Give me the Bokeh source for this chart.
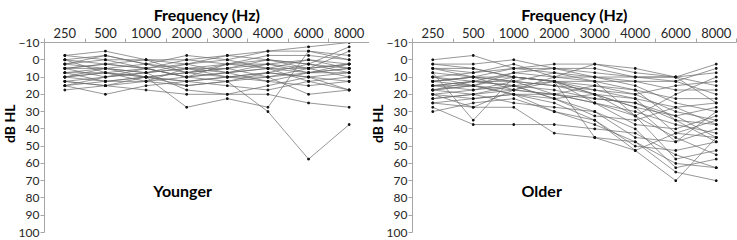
from bokeh.plotting import figure
from bokeh.layouts import row
from bokeh.models import Range1d, FixedTicker, Label, Title
from bokeh.embed import file_html
from bokeh.resources import INLINE

# ---- data -------------------------------------------------------------
freqs = ["250", "500", "1000", "2000", "3000", "4000", "6000", "8000"]
db_ticks = [-10, 0, 10, 20, 30, 40, 50, 60, 70, 80, 90, 100]

# Younger listeners (dB HL at each frequency)
y01 = [-2.5, -5, 0, 0, -2.5, -5, -7.5, -10]
y02 = [0, -2.5, 2.5, -2.5, 0, -5, -5, -2.5]
y03 = [2.5, 0, 0, 2.5, -2.5, 0, 2.5, -7.5]
y04 = [5, 2.5, 5, 0, 2.5, 2.5, 0, 2.5]
y05 = [5, 5, 7.5, 5, 5, 0, 2.5, 5]
y06 = [7.5, 5, 10, 7.5, 5, 2.5, 7.5, 5]
y07 = [10, 7.5, 5, 10, 7.5, 5, 5, 2.5]
y08 = [12.5, 10, 7.5, 5, 10, 7.5, 10, 7.5]
y09 = [15, 12.5, 10, 12.5, 10, 10, 5, 10]
y10 = [17.5, 15, 12.5, 15, 12.5, 10, 7.5, 5]
y11 = [15, 20, 15, 12.5, 15, 17.5, 12.5, 17.5]
y12 = [10, 12.5, 10, 27.5, 22.5, 27.5, -5, 0]
y13 = [7.5, 7.5, 10, 15, 12.5, 30, 57.5, 37.5]
y14 = [12.5, 15, 17.5, 20, 20, 20, 25, 27.5]
y15 = [2.5, 5, 7.5, 17.5, 20, 15, 10, 17.5]
y16 = [0, 2.5, 5, 2.5, 7.5, 12.5, 15, 12.5]
y17 = [-2.5, 0, 5, 10, 2.5, -2.5, -2.5, 0]
y18 = [5, 10, 7.5, 2.5, 0, 5, 12.5, 10]
y19 = [10, 5, 2.5, 7.5, 10, 7.5, 2.5, 7.5]
y20 = [12.5, 15, 10, 7.5, 5, 10, 20, 17.5]
y21 = [7.5, 12.5, 12.5, 10, 7.5, 2.5, 5, 2.5]
y22 = [2.5, -2.5, 2.5, 5, 7.5, 5, 0, 5]
y23 = [0, 7.5, 10, 12.5, 10, 12.5, 7.5, 2.5]
y24 = [15, 10, 5, 10, 12.5, 7.5, 10, 12.5]
y25 = [5, 2.5, 0, 7.5, 2.5, 0, 5, -5]
y26 = [10, 7.5, 12.5, 5, 2.5, 5, 7.5, 7.5]

# Older listeners (dB HL at each frequency)
o01 = [0, -2.5, 5, 2.5, 2.5, 5, 10, 2.5]
o02 = [2.5, 2.5, 0, 5, 7.5, 10, 12.5, 5]
o03 = [5, 7.5, 2.5, 10, 2.5, 7.5, 10, 7.5]
o04 = [7.5, 35, 10, 12.5, 20, 32.5, 45, 55]
o05 = [27.5, 37.5, 37.5, 37.5, 40, 42.5, 55, 62.5]
o06 = [25, 27.5, 27.5, 42.5, 45, 47.5, 65, 70]
o07 = [30, 25, 22.5, 30, 35, 52.5, 70, 45]
o08 = [22.5, 20, 17.5, 20, 25, 32.5, 57.5, 52.5]
o09 = [20, 17.5, 15, 22.5, 30, 40, 62.5, 57.5]
o10 = [17.5, 15, 20, 25, 35, 50, 52.5, 47.5]
o11 = [15, 12.5, 12.5, 15, 20, 27.5, 47.5, 40]
o12 = [12.5, 10, 10, 12.5, 17.5, 22.5, 42.5, 45]
o13 = [10, 12.5, 7.5, 10, 12.5, 17.5, 35, 37.5]
o14 = [15, 15, 17.5, 10, 10, 12.5, 12.5, 20]
o15 = [12.5, 10, 12.5, 7.5, 10, 10, 10, 15]
o16 = [10, 7.5, 5, 5, 5, 10, 10, 25]
o17 = [5, 5, 10, 12.5, 15, 20, 30, 35]
o18 = [17.5, 20, 15, 17.5, 22.5, 25, 32.5, 27.5]
o19 = [20, 22.5, 20, 20, 15, 17.5, 22.5, 22.5]
o20 = [7.5, 10, 12.5, 20, 25, 37.5, 40, 32.5]
o21 = [12.5, 15, 7.5, 5, 10, 15, 25, 30]
o22 = [15, 17.5, 12.5, 15, 17.5, 20, 15, 12.5]
o23 = [17.5, 12.5, 15, 12.5, 12.5, 32.5, 20, 10]
o24 = [10, 15, 20, 22.5, 32.5, 35, 27.5, 37.5]
o25 = [20, 27.5, 17.5, 12.5, 25, 30, 37.5, 42.5]
o26 = [22.5, 20, 25, 27.5, 30, 45, 47.5, 30]
o27 = [5, 10, 17.5, 20, 22.5, 25, 35, 47.5]
o28 = [2.5, 5, 10, 12.5, 20, 22.5, 27.5, 25]
o29 = [12.5, 10, 5, 7.5, 12.5, 12.5, 17.5, 17.5]
o30 = [15, 12.5, 15, 22.5, 20, 27.5, 32.5, 45]
o31 = [25, 22.5, 20, 30, 37.5, 47.5, 60, 62.5]
o32 = [17.5, 15, 10, 12.5, 45, 52.5, 42.5, 35]

younger = [y01, y02, y03, y04, y05, y06, y07, y08, y09, y10, y11, y12, y13,
           y14, y15, y16, y17, y18, y19, y20, y21, y22, y23, y24, y25, y26]
older = [o01, o02, o03, o04, o05, o06, o07, o08, o09, o10, o11, o12, o13,
         o14, o15, o16, o17, o18, o19, o20, o21, o22, o23, o24, o25, o26,
         o27, o28, o29, o30, o31, o32]

FONT = "Lato"
AXIS_GREY = "#a6a6a6"
TEXT = "#262626"


def make_panel(series, group_label, width, left_border, right_border, label_x, label_y):
    n = len(freqs)
    idx = list(range(n))
    p = figure(width=width, height=240, output_backend="svg",
               toolbar_location=None, x_axis_location="above",
               x_range=Range1d(-0.5, n - 0.5), y_range=Range1d(100, -10),
               min_border_left=left_border, min_border_right=right_border,
               min_border_top=42, min_border_bottom=8)
    p.outline_line_color = None
    p.xgrid.visible = False
    p.ygrid.visible = False
    p.background_fill_color = "white"
    p.border_fill_color = "white"

    # top frequency axis
    xa = p.xaxis[0]
    xa.ticker = FixedTicker(ticks=idx, minor_ticks=[i - 0.5 for i in range(n + 1)])
    xa.major_label_overrides = {i: f for i, f in enumerate(freqs)}
    xa.major_tick_out = 0
    xa.major_tick_in = 0
    xa.minor_tick_out = 4
    xa.minor_tick_in = 0
    xa.minor_tick_line_color = AXIS_GREY
    xa.axis_line_color = AXIS_GREY
    xa.major_label_text_font = FONT
    xa.major_label_text_font_size = "13px"
    xa.major_label_text_color = TEXT
    xa.major_label_standoff = 1
    xa.axis_label = "Frequency (Hz)"
    xa.axis_label_text_font = FONT
    xa.axis_label_text_font_style = "bold"
    xa.axis_label_text_font_size = "16px"
    xa.axis_label_text_color = "black"
    xa.axis_label_standoff = 1

    # dB HL axis
    ya = p.yaxis[0]
    ya.ticker = FixedTicker(ticks=db_ticks)
    ya.minor_tick_line_color = None
    ya.major_tick_out = 4
    ya.major_tick_in = 0
    ya.major_tick_line_color = AXIS_GREY
    ya.axis_line_color = AXIS_GREY
    ya.major_label_text_font = FONT
    ya.major_label_text_font_size = "12px"
    ya.major_label_text_color = TEXT
    ya.major_label_standoff = 1

    p.add_layout(Title(text="dB HL", align="right", offset=62, standoff=-5,
                       text_font=FONT, text_font_style="bold",
                       text_font_size="14px", text_color="black"), "left")

    xs = [idx for _ in series]
    p.multi_line(xs=xs, ys=series, line_color="#6a6a6a", line_width=0.7)
    fx = [i for s in series for i in idx]
    fy = [v for s in series for v in s]
    p.scatter(x=fx, y=fy, marker="square", size=1.6, color="#111111")

    p.add_layout(Label(x=label_x, y=label_y, text=group_label,
                       text_align="center", text_baseline="middle",
                       text_font=FONT, text_font_style="bold",
                       text_font_size="16px", text_color="black"))
    return p


p1 = make_panel(younger, "Younger", 369, 44, 0, 2.9, 75.5)
p2 = make_panel(older, "Older", 368, 41, 1, 2.69, 75.5)
layout = row(p1, p2, spacing=0)

open("out.html", "w").write(file_html(layout, INLINE))
